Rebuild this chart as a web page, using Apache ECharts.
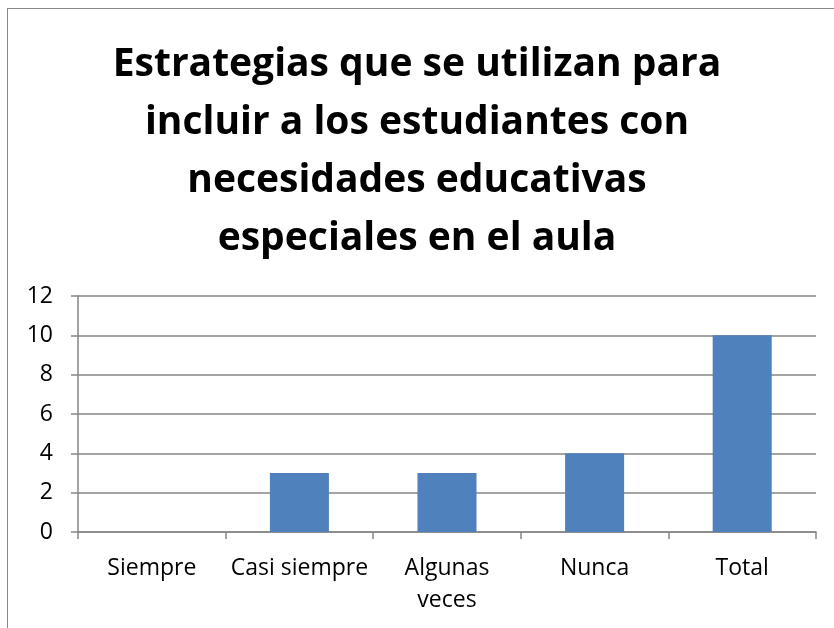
<!DOCTYPE html>
<html>
<head>
<meta charset="utf-8">
<script src="https://cdn.jsdelivr.net/npm/echarts@6/dist/echarts.min.js"></script>
<style>
  html, body { margin: 0; padding: 0; background: #fff; }
  #frame { position: absolute; left: 7px; top: 8px; width: 830px; height: 630px; border: 1px solid #888; box-sizing: border-box; }
  #chart { width: 834px; height: 628px; }
</style>
</head>
<body>
<div id="frame"></div>
<div id="chart"></div>
<script>
// chart data
const titleText = 'Estrategias que se utilizan para\nincluir a los estudiantes con\nnecesidades educativas\nespeciales en el aula';
const categories = ['Siempre', 'Casi siempre', 'Algunas\nveces', 'Nunca', 'Total'];
const values = [0, 3, 3, 4, 10];
const yMin = 0;
const yMax = 12;
const yStep = 2;

const FONT = 'Open Sans';
const chart = echarts.init(document.getElementById('chart'));

chart.setOption({
    animation: false,
    title: {
        text: titleText,
        left: 'center',
        top: 31,
        textStyle: {
            fontFamily: FONT,
            fontWeight: 'bold',
            fontSize: 39,
            lineHeight: 58,
            color: '#000'
        }
    },
    grid: { left: 78, right: 18, top: 296, bottom: 96 },
    xAxis: {
        type: 'category',
        data: categories,
        axisLine: { lineStyle: { color: '#868686', width: 1.5 } },
        axisTick: { show: true, length: 7, lineStyle: { color: '#868686', width: 1.5 } },
        axisLabel: { color: '#000', fontFamily: FONT, fontSize: 23, margin: 20, lineHeight: 32, interval: 0 }
    },
    yAxis: {
        type: 'value',
        min: yMin,
        max: yMax,
        interval: yStep,
        axisLine: { show: true, lineStyle: { color: '#868686', width: 1.5 } },
        axisTick: { show: true, length: 7, lineStyle: { color: '#868686', width: 1.5 } },
        splitLine: { lineStyle: { color: '#868686', width: 1.5 } },
        axisLabel: { color: '#000', fontFamily: FONT, fontSize: 23, margin: 25 }
    },
    series: [{
        type: 'bar',
        data: values,
        barWidth: '40%',
        itemStyle: { color: '#4F81BD' }
    }]
});
</script>
</body>
</html>
